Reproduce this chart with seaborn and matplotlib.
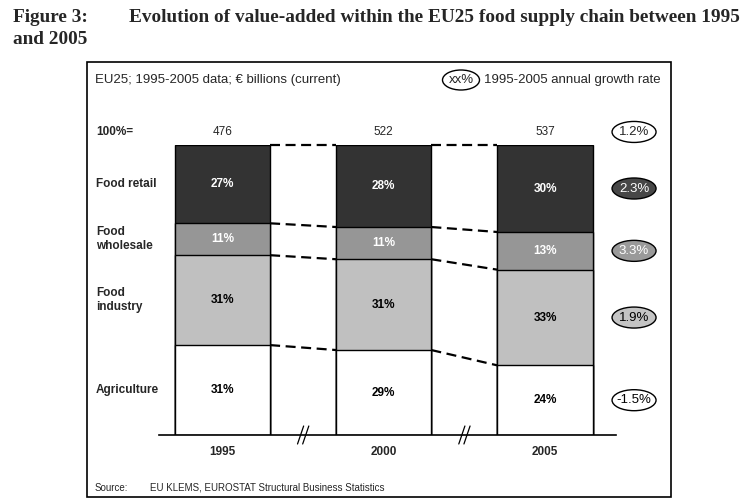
import numpy as np
import matplotlib.pyplot as plt
from matplotlib.patches import Ellipse, Rectangle
import seaborn as sns

# data (shares in % of total value added)
years = ["1995", "2000", "2005"]
totals = [476, 522, 537]
agriculture = [31, 29, 24]
food_industry = [31, 31, 33]
food_wholesale = [11, 11, 13]
food_retail = [27, 28, 30]
growth = ["-1.5%", "1.9%", "3.3%", "2.3%"]   # bottom to top
growth_total = "1.2%"

seg_labels = ["Agriculture", "Food\nindustry", "Food\nwholesale", "Food retail"]
seg_colors = ["white", "#c0c0c0", "#969696", "#333333"]
txt_colors = ["black", "black", "white", "white"]
ell_colors = ["white", "#c4c4c4", "#9a9a9a", "#474747"]
ell_txt = ["black", "black", "white", "white"]

sns.set_style("white")
plt.rcParams["font.family"] = ["Liberation Sans", "DejaVu Sans"]

shares = np.array([agriculture, food_industry, food_wholesale, food_retail], dtype=float)
norm = shares / shares.sum(axis=0) * 100   # every bar fills to 100%
cum = norm.cumsum(axis=0)
mids = cum - norm / 2

fig = plt.figure(figsize=(7.48, 5.04), dpi=100)

# overlay in pixel units for the frame, titles and notes
ov = fig.add_axes([0, 0, 1, 1])
ov.set_xlim(0, 748)
ov.set_ylim(504, 0)
ov.axis("off")

ov.text(13, 18, "Figure 3:", family="Liberation Serif", weight="bold", fontsize=13.9, va="center")
ov.text(129, 18, "Evolution of value-added within the EU25 food supply chain between 1995",
        family="Liberation Serif", weight="bold", fontsize=13.9, va="center")
ov.text(13, 40, "and 2005", family="Liberation Serif", weight="bold", fontsize=13.9, va="center")

ov.add_patch(Rectangle((87, 62), 584, 435, fill=False, lw=1.2, ec="black"))
ov.text(95, 80, "EU25; 1995-2005 data; € billions (current)", fontsize=9.5, va="center")
ov.add_patch(Ellipse((461, 80), 37, 20, fc="white", ec="black", lw=1))
ov.text(461, 80, "xx%", fontsize=9.5, ha="center", va="center")
ov.text(484, 80, "1995-2005 annual growth rate", fontsize=9.5, va="center")
ov.text(95, 488, "Source:", fontsize=7, va="center")
ov.text(150, 488, "EU KLEMS, EUROSTAT Structural Business Statistics", fontsize=7, va="center")

# bar axes: y=0 at px 435, y=100 at px 145
ax = fig.add_axes([159 / 748, (504 - 435) / 504, 457 / 748, 290 / 504])
bw = 0.59
for i in reversed(range(4)):
    sns.barplot(x=years, y=cum[i], color=seg_colors[i], saturation=1, width=bw,
                edgecolor="black", linewidth=1, ax=ax)

ax.set_xlim(-0.394, 2.44)
ax.set_ylim(0, 100)
ax.set_xlabel("")
ax.set_ylabel("")
ax.set_yticks([])
for s in ["top", "left", "right"]:
    ax.spines[s].set_visible(False)
ax.spines["bottom"].set_color("black")
ax.spines["bottom"].set_linewidth(1.2)
ax.tick_params(axis="x", length=0, pad=8, labelsize=8.5)
for lab in ax.get_xticklabels():
    lab.set_fontweight("bold")

# dashed connectors between neighbouring bars
for j in range(2):
    for k in range(4):
        ax.plot([j + bw / 2, j + 1 - bw / 2], [cum[k][j], cum[k][j + 1]],
                color="black", lw=1.6, ls=(0, (4.5, 2.5)), clip_on=False)

# axis break marks
for xb in [0.5, 1.5]:
    for off in [-0.016, 0.016]:
        ax.plot([xb + off - 0.019, xb + off + 0.019], [-3.1, 3.1],
                color="black", lw=0.9, clip_on=False)

# segment values
for i in range(4):
    for j in range(3):
        ax.text(j, mids[i][j], f"{int(shares[i][j])}%", ha="center", va="center",
                fontsize=8.5, weight="bold", color=txt_colors[i])

# row labels
xl = (96 - 222.5) / 161.25
for i in range(4):
    ax.text(xl, mids[i][0], seg_labels[i], ha="left", va="center", fontsize=8.5,
            weight="bold", clip_on=False)
ytot = 104.5
ax.text(xl, ytot, "100%=", ha="left", va="center", fontsize=8.5, weight="bold", clip_on=False)
for j in range(3):
    ax.text(j, ytot, str(totals[j]), ha="center", va="center", fontsize=8.5, clip_on=False)

# growth rate ellipses
xe = (634 - 222.5) / 161.25
ew, eh = 44 / 161.25, 21 / 2.9
ax.add_patch(Ellipse((xe, ytot), ew, eh, fc="white", ec="black", lw=1, clip_on=False))
ax.text(xe, ytot, growth_total, ha="center", va="center", fontsize=9.5, clip_on=False)
for i in range(4):
    ax.add_patch(Ellipse((xe, mids[i][2]), ew, eh, fc=ell_colors[i], ec="black", lw=1,
                         clip_on=False))
    ax.text(xe, mids[i][2], growth[i], ha="center", va="center", fontsize=9.5,
            color=ell_txt[i], clip_on=False)

fig.savefig("out.png", dpi=100)
